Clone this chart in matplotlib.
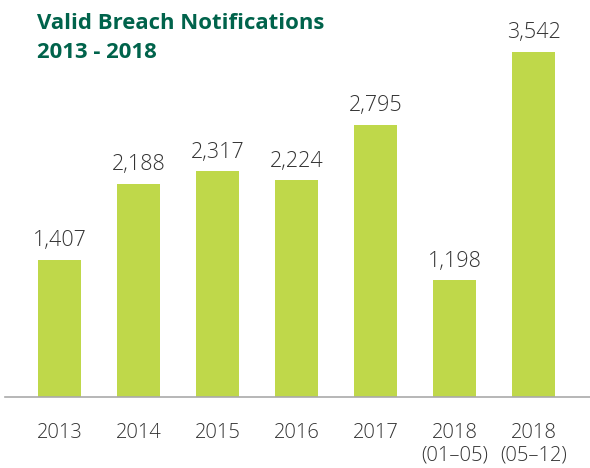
import matplotlib
matplotlib.use("Agg")
import matplotlib.pyplot as plt

categories = ["2013", "2014", "2015", "2016", "2017", "2018\n(01–05)", "2018\n(05–12)"]
values = [1407, 2188, 2317, 2224, 2795, 1198, 3542]
title_lines = ["Valid Breach Notifications", "2013 - 2018"]

plt.rcParams['font.family'] = ['Open Sans', 'DejaVu Sans']

W, H = 590, 468
fig = plt.figure(figsize=(W / 100, H / 100), dpi=100)
ax = fig.add_axes([5 / W, (H - 397) / H, (590 - 5) / W, 397 / H])

x = list(range(len(categories)))
ax.bar(x, values, width=0.544, color="#BFD84A", zorder=2)
ax.set_xlim(-0.691, 6.715)
ax.set_ylim(0, 4072)

for xi, v in zip(x, values):
    ax.annotate(f"{v:,}", (xi, v), xytext=(0, 6), textcoords="offset points",
                ha="center", va="bottom", fontsize=15.5, color="#333333",
                fontweight="light")

ax.set_xticks(x)
ax.set_xticklabels(categories, fontsize=14.5, color="#333333", linespacing=1.15,
                   fontweight="light")
ax.tick_params(axis="x", length=0, pad=19)
ax.set_yticks([])
for s in ["top", "right", "left"]:
    ax.spines[s].set_visible(False)
ax.spines["bottom"].set_color("#AAAAAA")
ax.spines["bottom"].set_linewidth(1.2)
ax.spines["bottom"].set_zorder(3)

fig.text(37 / W, 1 - 29 / H, title_lines[0], fontsize=15.9, fontweight="bold",
         color="#00634B", ha="left", va="baseline")
fig.text(37 / W, 1 - 58 / H, title_lines[1], fontsize=15.9, fontweight="bold",
         color="#00634B", ha="left", va="baseline")

fig.savefig("out.png", dpi=100)
